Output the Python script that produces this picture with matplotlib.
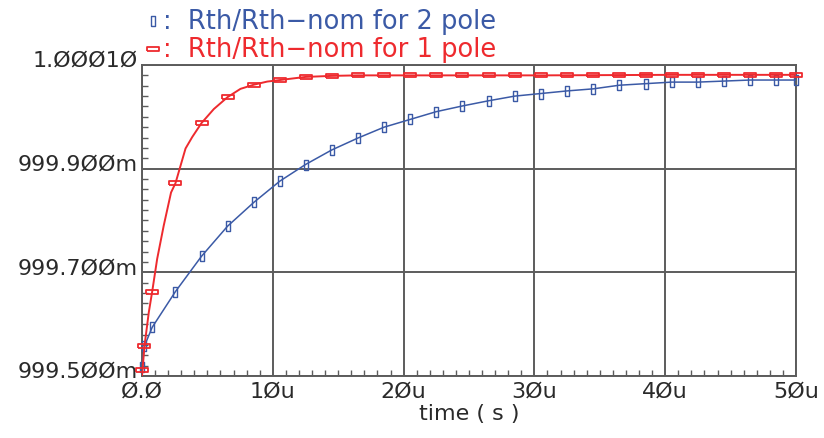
import matplotlib
matplotlib.use("Agg")
import matplotlib.pyplot as plt
from matplotlib.lines import Line2D
from matplotlib.ticker import MultipleLocator, FixedLocator
import matplotlib.transforms as mtransforms

# ---- data (time in microseconds, value in milli-units) ----
red_line_t = [0, 0.19, 0.52, 0.78, 1.16, 1.66, 2.22, 2.56, 2.95, 3.33, 3.84, 4.55,
              5.49, 6.54, 7.53, 8.55, 9.57, 10.54, 12.5, 14.5, 16.5, 20.5, 30.5, 40.5, 50]
red_line_v = [999.500, 999.558, 999.623, 999.663, 999.726, 999.790, 999.854, 999.872,
              999.906, 999.939, 999.961, 999.988, 1000.015, 1000.038, 1000.054, 1000.062,
              1000.068, 1000.071, 1000.077, 1000.079, 1000.080, 1000.080, 1000.080,
              1000.081, 1000.081]

marker_t = [0, 0.19, 0.78, 2.56, 4.55, 6.54, 8.55, 10.54, 12.5, 14.5, 16.5, 18.5, 20.5,
            22.5, 24.5, 26.5, 28.5, 30.5, 32.5, 34.5, 36.5, 38.5, 40.5, 42.5, 44.5,
            46.5, 48.5, 50]
red_marker_v = [999.512, 999.558, 999.663, 999.872, 999.988, 1000.038, 1000.062, 1000.071,
                1000.077, 1000.079, 1000.080, 1000.080, 1000.080, 1000.080, 1000.080,
                1000.080, 1000.080, 1000.080, 1000.080, 1000.080, 1000.080, 1000.080,
                1000.081, 1000.081, 1000.081, 1000.081, 1000.081, 1000.081]
blue_v = [999.517, 999.558, 999.594, 999.663, 999.731, 999.789, 999.835, 999.876, 999.908,
          999.936, 999.959, 999.980, 999.995, 1000.010, 1000.021, 1000.031, 1000.040,
          1000.045, 1000.050, 1000.054, 1000.061, 1000.064, 1000.067, 1000.067, 1000.069,
          1000.071, 1000.071, 1000.071]
blue_line_t = [0] + marker_t
blue_line_v = [999.500] + blue_v

x_ticks = [0, 10, 20, 30, 40, 50]
x_labels = ["Ø.Ø", "1Øu", "2Øu", "3Øu", "4Øu", "5Øu"]
y_ticks = [999.5, 999.7, 999.9, 1000.1]
y_labels = ["999.5ØØm", "999.7ØØm", "999.9ØØm", "1.ØØØ1Ø"]
legend_labels = ["Rth/Rth−nom for 2 pole", "Rth/Rth−nom for 1 pole"]

BLUE = "#3b5aa6"
RED = "#ee2a2e"
GRID = "#5c5c5c"
TXT = "#2a2a2a"

# custom markers
blue_marker = [(-0.35, -1), (0.35, -1), (0.35, 1), (-0.35, 1), (-0.35, -1)]
red_marker = [(-1, -0.42), (1, -0.42), (1, 0.42), (-1, 0.42), (-1, -0.42)]

fig = plt.figure(figsize=(8.24, 4.39), dpi=100)
ax = fig.add_axes([142 / 824, 1 - 377 / 439, (796 - 142) / 824, (377 - 66) / 439])

ax.plot(blue_line_t, blue_line_v, color=BLUE, lw=1.1, zorder=3)
ax.plot(marker_t, blue_v, ls="none", marker=blue_marker, ms=7.2, mfc="none",
        mec=BLUE, mew=1.0, zorder=4, clip_on=False)
ax.plot(red_line_t, red_line_v, color=RED, lw=1.4, zorder=5)
ax.plot(marker_t, red_marker_v, ls="none", marker=red_marker, ms=8.3, mfc="none",
        mec=RED, mew=1.3, zorder=6, clip_on=False)

ax.set_xlim(0, 50)
ax.set_ylim(999.5, 1000.1)
ax.xaxis.set_major_locator(FixedLocator(x_ticks))
ax.set_xticklabels(x_labels)
ax.yaxis.set_major_locator(FixedLocator(y_ticks))
ax.set_yticklabels(y_labels)
ax.xaxis.set_minor_locator(MultipleLocator(1))
ax.yaxis.set_minor_locator(MultipleLocator(0.02))

ax.grid(True, which="major", color=GRID, lw=1.4)
for s in ax.spines.values():
    s.set_color(GRID)
    s.set_linewidth(1.4)

ax.tick_params(which="major", length=0, labelsize=16, labelcolor=TXT, pad=3)
ax.tick_params(which="minor", direction="in", length=4.5, width=1.0, color=GRID,
               top=False, right=False)

# shift y tick labels slightly up like the original
offset = mtransforms.ScaledTranslation(0, 5 / 72, fig.dpi_scale_trans)
for lbl in ax.get_yticklabels():
    lbl.set_transform(lbl.get_transform() + offset)

ax.set_xlabel("time ( s )", fontsize=16, color=TXT, labelpad=2)

# legend at top
fig.add_artist(Line2D([153 / 824], [1 - 22 / 439], marker=blue_marker, ms=7.2,
                      mfc="none", mec=BLUE, mew=1.0, ls="none",
                      transform=fig.transFigure))
fig.text(163 / 824, 1 - 22 / 439, ":  " + legend_labels[0], color=BLUE, fontsize=18.5,
         va="center", ha="left")
fig.add_artist(Line2D([153 / 824], [1 - 50 / 439], marker=red_marker, ms=8.3,
                      mfc="none", mec=RED, mew=1.3, ls="none",
                      transform=fig.transFigure))
fig.text(163 / 824, 1 - 50 / 439, ":  " + legend_labels[1], color=RED, fontsize=18.5,
         va="center", ha="left")

fig.savefig("out.png", dpi=100)
